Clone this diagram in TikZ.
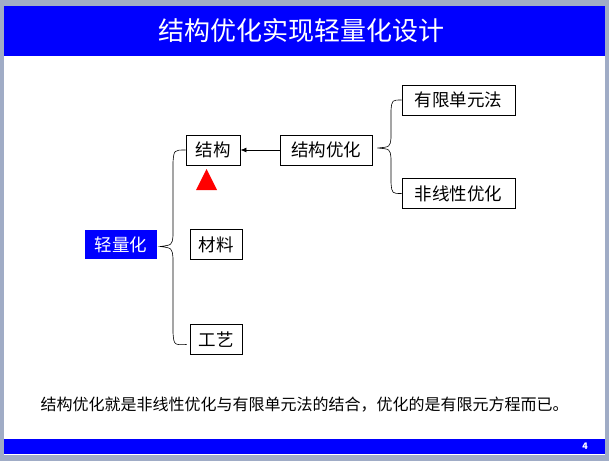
\documentclass[tikz,border=0pt]{standalone}
\usepackage{fontspec}
\setmainfont{Noto Sans CJK SC}
\usetikzlibrary{arrows.meta,calc}
\definecolor{slideblue}{RGB}{0,0,255}
\definecolor{framegray}{RGB}{160,172,198}
\tikzset{
  box/.style={draw=black,thick,fill=white,inner sep=0pt,minimum height=30pt,font=\fontsize{17.5}{17.5}\selectfont},
  brace/.style={black,semithick},
}

\begin{document}
\begin{tikzpicture}[x=1pt,y=-1pt]

      % window frame and slide
      \fill[framegray] (0,0) rectangle (609,461);
      \fill[white] (4,6) rectangle (605,455);
      \fill[slideblue] (4,6) rectangle (605,56);
      \fill[slideblue] (4,439) rectangle (605,454);
      \node[white,font=\fontsize{26}{26}\selectfont] (title) at (301,31) {结构优化实现轻量化设计};
      \node[white,font=\bfseries\fontsize{9}{9}\selectfont] (page) at (585,446) {4};

      % left tree
      \node[fill=slideblue,text=white,inner sep=0pt,minimum width=72pt,minimum height=29pt,font=\fontsize{17.5}{17.5}\selectfont] (qlh) at (121,244.5) {轻量化};
      \node[box,minimum width=54pt] (jg) at (213,150) {结构};
      \node[box,minimum width=52pt] (cl) at (216,244.5) {材料};
      \node[box,minimum width=52pt] (gy) at (216,339.5) {工艺};
      \node[box,minimum width=92pt] (jgyh) at (326,150) {结构优化};
      \node[box,minimum width=113pt] (yx) at (458.5,100) {有限单元法};
      \node[box,minimum width=113pt] (fx) at (458.5,193.5) {非线性优化};

      \fill[red] (196,190) -- (206.5,169) -- (217,190) -- cycle;

      \draw[-{Latex[length=6pt,width=5pt]},thick] (jgyh.west) -- (jg.east);

      % braces
      \coordinate (t1) at ($(qlh.east)+(3,2)$);
      \draw[brace] (jg.west) .. controls (174,150) .. (173,162) -- (173,236)
        .. controls (172,245) .. (t1) .. controls (172,248) .. (173,258) -- (173,333)
        .. controls (174,345) .. ($(gy.west)+(-3,5)$);
      \coordinate (t2) at ($(jgyh.east)+(5,-2)$);
      \draw[brace] (yx.west) .. controls (392,100) .. (391,110) -- (391,138)
        .. controls (390,147) .. (t2) .. controls (390,149) .. (391,158) -- (391,183)
        .. controls (392,193.5) .. (fx.west);

      \node[font=\fontsize{16}{16}\selectfont,anchor=west] (note) at (37,405) {结构优化就是非线性优化与有限单元法的结合，优化的是有限元方程而已。};

\end{tikzpicture}
\end{document}
